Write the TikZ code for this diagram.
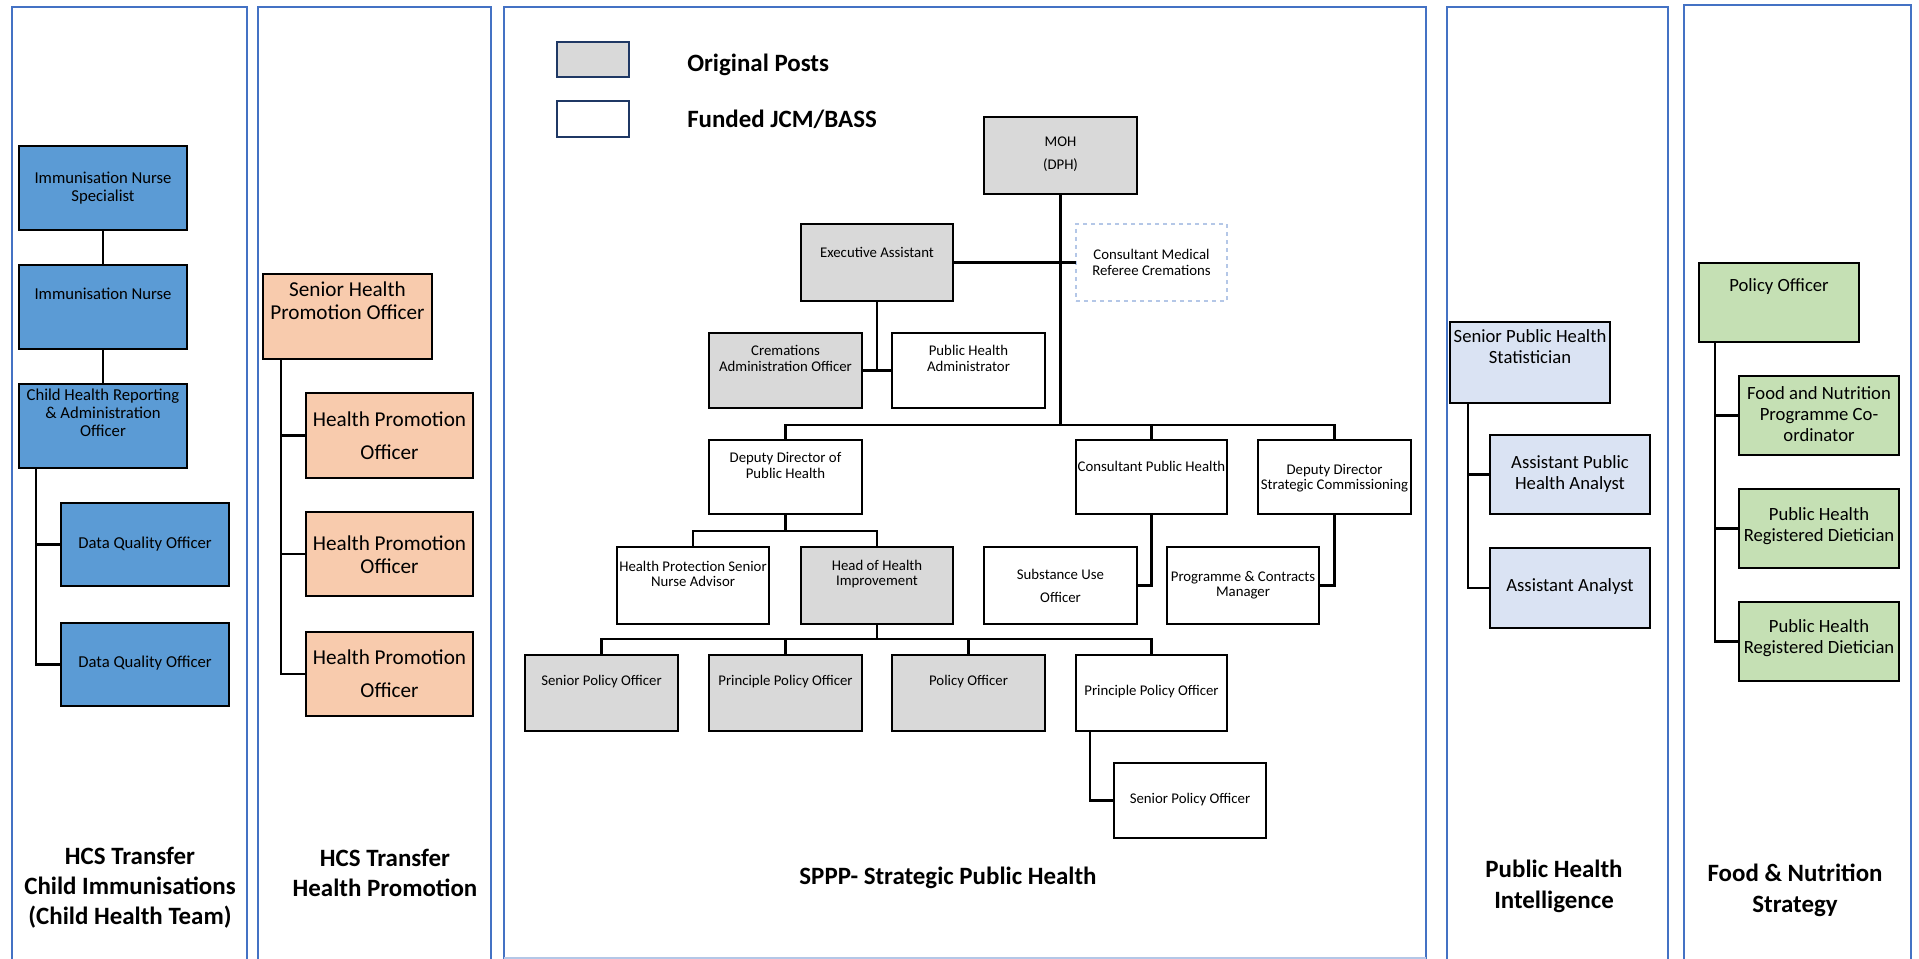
\documentclass[tikz,border=0pt]{standalone}
\usepackage{fontspec}
\setmainfont{Carlito}
\definecolor{panelblue}{HTML}{4472C4}
\definecolor{boxblue}{HTML}{5B9BD5}
\definecolor{peach}{HTML}{F8CBAD}
\definecolor{paleblue}{HTML}{DAE3F3}
\definecolor{palegreen}{HTML}{C5E0B4}
\definecolor{greypost}{HTML}{D9D9D9}
\definecolor{navy}{HTML}{1F3864}
\definecolor{dashblue}{HTML}{B4C7E7}
\newcommand\post[9]{%
  \node[#6, minimum width={(#4-#2)*0.75pt}, minimum height={(#5-#3)*0.75pt}] (#1) at ({(#2+#4)/2},{(#3+#5)/2}) {};
  \node[#7] (#1-t) at ({(#2+#4)/2},#8) {#9};
}
\tikzset{
  panel/.style={draw=panelblue, line width=1.6pt},
  box/.style={draw=black, line width=1.9pt, inner sep=0pt, outer sep=0pt, rectangle},
  bluebox/.style={box, fill=boxblue},
  peachbox/.style={box, fill=peach},
  palebox/.style={box, fill=paleblue},
  greenbox/.style={box, fill=palegreen},
  greybox/.style={box, fill=greypost},
  whitebox/.style={box, fill=white},
  dashbox/.style={draw=dashblue, dashed, line width=1pt, fill=white, inner sep=0pt, outer sep=0pt, rectangle},
  link/.style={draw=black, line width=1.9pt},
  fa/.style={font=\fontsize{12.5}{13.5}\selectfont, align=center, inner sep=0pt},
  fb/.style={font=\fontsize{15.9}{17.2}\selectfont, align=center, inner sep=0pt},
  fbw/.style={font=\fontsize{15.9}{24.7}\selectfont, align=center, inner sep=0pt},
  fc/.style={font=\fontsize{11.1}{11.4}\selectfont, align=center, inner sep=0pt},
  fcw/.style={font=\fontsize{11.1}{17.2}\selectfont, align=center, inner sep=0pt},
  fd/.style={font=\fontsize{14}{15.9}\selectfont, align=center, inner sep=0pt},
  title/.style={font=\fontsize{18.7}{22.6}\selectfont\bfseries, align=center, inner sep=0pt},
  titlew/.style={font=\fontsize{18.7}{23.3}\selectfont\bfseries, align=center, inner sep=0pt},
  legendtext/.style={font=\fontsize{18.7}{20}\selectfont\bfseries, anchor=west, inner sep=0pt},
  legendbox/.style={draw=navy, line width=1.6pt, inner sep=0pt, outer sep=0pt, rectangle},
}
\begin{document}
\begin{tikzpicture}[x=0.75pt, y=-0.75pt]
\useasboundingbox[fill=white] (0,0) rectangle (1919,959);

% panels
\draw[panel] (12,965) -- (12,7) -- (247,7) -- (247,965);
\draw[panel] (258,965) -- (258,7) -- (491,7) -- (491,965);
\draw[panel] (504,965) -- (504,7) -- (1426,7) -- (1426,965);
\draw[draw=dashblue, line width=1pt] (504,958) -- (1426,958);
\draw[panel] (1447,965) -- (1447,7) -- (1668,7) -- (1668,965);
\draw[panel] (1684,965) -- (1684,5) -- (1911,5) -- (1911,965);

% ---------- Panel 1 ----------
\post{ins}{19}{146}{187}{230}{bluebox}{fa}{188}{Immunisation Nurse\\Specialist}
\post{inn}{19}{265}{187}{349}{bluebox}{fa}{294}{Immunisation Nurse}
\post{chr}{19}{384}{187}{468}{bluebox}{fa}{413}{Child Health Reporting\\\& Administration\\Officer}
\post{dqa}{61}{503}{229}{586}{bluebox}{fa}{544}{Data Quality Officer}
\post{dqb}{61}{623}{229}{706}{bluebox}{fa}{663}{Data Quality Officer}
\draw[link] (ins.south) -- (inn.north);
\draw[link] (inn.south) -- (chr.north);
\draw[link] (chr.south west) ++(17,0) |- (dqb.west);
\draw[link] (chr.south west) ++(17,0) |- (dqa.west);
\node[title] (t1) at (130,888) {HCS Transfer\\Child Immunisations\\(Child Health Team)};

% ---------- Panel 2 ----------
\post{shpo}{263}{274}{432}{359}{peachbox}{fb}{300.5}{Senior Health\\Promotion Officer}
\post{hpa}{306}{393}{473}{478}{peachbox}{fbw}{435.5}{Health Promotion\\Officer}
\post{hpb}{306}{512}{473}{596}{peachbox}{fb}{554.5}{Health Promotion\\Officer}
\post{hpc}{306}{632}{473}{716}{peachbox}{fbw}{673.5}{Health Promotion\\Officer}
\draw[link] (shpo.south west) ++(18,0) |- (hpc.west);
\draw[link] (shpo.south west) ++(18,0) |- (hpb.west);
\draw[link] (shpo.south west) ++(18,0) |- (hpa.west);
\node[title] (t2) at (385,873) {HCS Transfer\\Health Promotion};

% ---------- Panel 3 ----------
\node[legendbox, fill=greypost, minimum width=54pt, minimum height=26.25pt] (lga) at (593,59.5) {};
\node[legendbox, fill=white, minimum width=54pt, minimum height=27pt] (lgb) at (593,119) {};
\node[legendtext] (lgat) at (687,65) {Original Posts};
\node[legendtext] (lgbt) at (687,119) {Funded JCM/BASS};

\post{moh}{984}{117}{1137}{194}{greybox}{fcw}{154.5}{MOH\\(DPH)}
\post{exec}{801}{224}{953}{301}{greybox}{fc}{252}{Executive Assistant}
\post{cmr}{1076}{224}{1227}{301}{dashbox}{fc}{262.5}{Consultant Medical\\Referee Cremations}
\post{cao}{709}{333}{862}{408}{greybox}{fc}{358.5}{Cremations\\Administration Officer}
\post{pha}{892}{333}{1045}{408}{whitebox}{fc}{358.5}{Public Health\\Administrator}
\post{ddph}{709}{440}{862}{514}{whitebox}{fc}{465.5}{Deputy Director of\\Public Health}
\post{cph}{1076}{440}{1227}{514}{whitebox}{fc}{466}{Consultant Public Health}
\post{dsc}{1258}{440}{1411}{514}{whitebox}{fc}{478}{Deputy Director\\Strategic Commissioning}
\post{hpsn}{617}{547}{769}{624}{whitebox}{fc}{574}{Health Protection Senior\\Nurse Advisor}
\post{hhi}{801}{547}{953}{624}{greybox}{fc}{574}{Head of Health\\Improvement}
\post{suo}{984}{547}{1137}{624}{whitebox}{fcw}{585.5}{Substance Use\\Officer}
\post{pcm}{1167}{547}{1319}{624}{whitebox}{fc}{585}{Programme \& Contracts\\Manager}
\post{spoa}{525}{655}{678}{731}{greybox}{fc}{682}{Senior Policy Officer}
\post{ppoa}{709}{655}{862}{731}{greybox}{fc}{682}{Principle Policy Officer}
\post{poa}{892}{655}{1045}{731}{greybox}{fc}{682}{Policy Officer}
\post{ppob}{1076}{655}{1227}{731}{whitebox}{fc}{692}{Principle Policy Officer}
\post{spob}{1114}{763}{1266}{838}{whitebox}{fc}{800}{Senior Policy Officer}

\coordinate (busA) at (1060.5,425);
\draw[link] (moh.south) -- (busA);
\draw[link] (ddph.north) |- (busA);
\draw[link] (dsc.north) |- (busA);
\draw[link] (cph.north) |- (busA);
\draw[link] (exec.east) -- (cmr.west);
\draw[link] (exec.south) -- (exec.south |- cao.east);
\draw[link] (cao.east) -- (pha.west);
\draw[link] (ddph.south) -- ++(0,17) coordinate (busB);
\draw[link] (hpsn.north) |- (busB) -| (hhi.north);
\draw[link] (hhi.south) -- ++(0,15) coordinate (busC);
\draw[link] (spoa.north) |- (busC) -| (ppob.north);
\draw[link] (ppoa.north) |- (busC);
\draw[link] (poa.north) |- (busC);
\draw[link] (ppob.south west) ++(14,0) |- (spob.west);
\draw[link] (cph.south) |- (suo.east);
\draw[link] (dsc.south) |- (pcm.east);
\node[title] (t3) at (948,878) {SPPP- Strategic Public Health};

% ---------- Panel 4 ----------
\post{sphs}{1450}{322}{1610}{403}{palebox}{fd}{346.5}{Senior Public Health\\Statistician}
\post{apha}{1490}{435}{1650}{514}{palebox}{fd}{474}{Assistant Public\\Health Analyst}
\post{aa}{1490}{548}{1650}{628}{palebox}{fd}{587}{Assistant Analyst}
\draw[link] (sphs.south west) ++(18,0) |- (aa.west);
\draw[link] (sphs.south west) ++(18,0) |- (apha.west);
\node[titlew] (t4) at (1554,886.5) {Public Health\\Intelligence};

% ---------- Panel 5 ----------
\post{pof}{1699}{263}{1859}{342}{greenbox}{fd}{287}{Policy Officer}
\post{fnc}{1739}{376}{1899}{455}{greenbox}{fd}{414}{Food and Nutrition\\Programme Co-\\ordinator}
\post{rda}{1739}{489}{1899}{568}{greenbox}{fd}{526.5}{Public Health\\Registered Dietician}
\post{rdb}{1739}{602}{1899}{681}{greenbox}{fd}{638.5}{Public Health\\Registered Dietician}
\draw[link] (pof.south west) ++(16,0) |- (rdb.west);
\draw[link] (pof.south west) ++(16,0) |- (rda.west);
\draw[link] (pof.south west) ++(16,0) |- (fnc.west);
\node[titlew] (t5) at (1795,890.5) {Food \& Nutrition\\Strategy};
\end{tikzpicture}
\end{document}
